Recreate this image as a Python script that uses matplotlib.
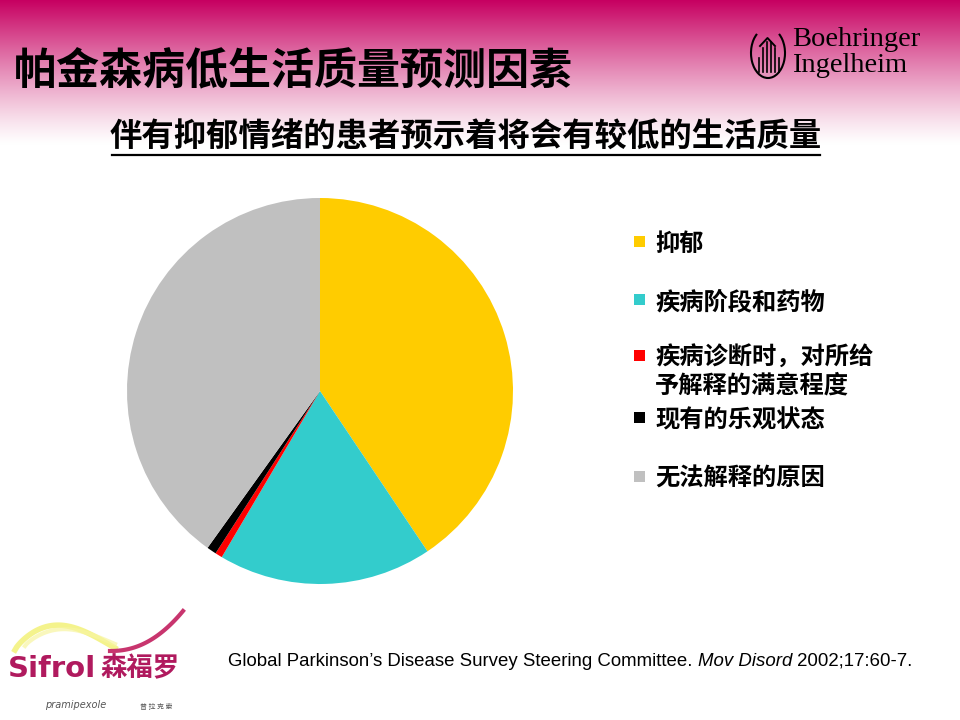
import matplotlib.pyplot as plt
import numpy as np
from matplotlib.patches import Arc, Rectangle

plt.rcParams['font.family'] = ['Noto Sans CJK SC', 'DejaVu Sans']

# ======= DATA =======
labels = ["抑郁", "疾病阶段和药物", "疾病诊断时，对所给\n予解释的满意程度", "现有的乐观状态", "无法解释的原因"]
values = [40.6, 17.9, 0.6, 0.8, 40.1]
colors = ['#FFCC00', '#33CCCC', '#FF0000', '#000000', '#C0C0C0']

title = "帕金森病低生活质量预测因素"
subtitle = "伴有抑郁情绪的患者预示着将会有较低的生活质量"
ref_start = "Global Parkinson’s Disease Survey Steering Committee. "
ref_journal = "Mov Disord"
ref_end = " 2002;17:60-7."

fig = plt.figure(figsize=(9.6, 7.2), dpi=100)

# ======= BACKGROUND / DECORATION (pixel coordinates) =======
bg = fig.add_axes([0, 0, 1, 1], zorder=0)
bg.set_xlim(0, 960)
bg.set_ylim(720, 0)
bg.axis('off')

top = np.array([0.78, 0.0, 0.38])
ys = np.linspace(0, 1, 200)
mix = np.clip(1 - ys, 0, 1) ** 1.2
grad = top[None, :] * mix[:, None] + np.ones(3)[None, :] * (1 - mix[:, None])
bg.imshow(grad[:, None, :], extent=[0, 960, 145, 0], aspect='auto', zorder=0)

bg.text(14, 71, title, fontsize=31, fontweight='bold', va='center', ha='left', color='black')
bg.text(466, 137, subtitle, fontsize=23.3, fontweight='bold', va='center', ha='center', color='black')
bg.plot([112, 820], [155, 155], color='black', lw=1.6)

# Boehringer logo
bg.add_patch(Arc((768, 53), 34, 50, theta1=-60, theta2=240, color='black', lw=1.5))
for x, h in zip([759, 763, 767, 771, 775, 779], [8, 18, 24, 24, 18, 8]):
    bg.plot([x, x], [72, 72 - h - 6], color='black', lw=1.2)
bg.plot([760, 767.5, 775], [46, 38, 46], color='black', lw=1.4)
bg.text(792, 40, "Boehringer", fontsize=20.5, family='Liberation Serif', va='center', ha='left')
bg.text(792, 66, "Ingelheim", fontsize=20.5, family='Liberation Serif', va='center', ha='left')

# legend
y_pos = [242, 300, 356, 418, 477]
for lab, c, y in zip(labels, colors, y_pos):
    bg.add_patch(Rectangle((634, y - 6), 11, 11, color=c, lw=0))
    bg.text(655, y - 10, lab, fontsize=17.5, fontweight='bold', va='top', ha='left',
            linespacing=1.2)

# reference
t1 = bg.text(228, 661, ref_start, fontsize=13.4, family='Liberation Sans', va='center', ha='left')
fig.canvas.draw()
r = fig.canvas.get_renderer()
bb = t1.get_window_extent(r)
t2 = bg.text(bb.x1, 720 - 661, ref_journal, fontsize=13.4, family='Liberation Sans', style='italic',
             va='center', ha='left', transform=None)
bb2 = t2.get_window_extent(r)
bg.text(bb2.x1, 720 - 661, ref_end, fontsize=13.4, family='Liberation Sans', va='center',
        ha='left', transform=None)

# Sifrol logo
tt = np.linspace(0, 1, 60)
bg.plot(15 + 100 * tt, 650 - 24 * np.sin(np.pi * tt ** 0.8) - 2 * tt, color='#F2F070', lw=4, alpha=0.8)
bg.plot(25 + 90 * tt, 646 - 16 * np.sin(np.pi * tt ** 0.8) - 2 * tt, color='#F7F5A0', lw=3, alpha=0.7)
bg.plot(110 + 73 * tt, 651 - 40 * tt ** 2.2, color='#C8356E', lw=3)
bg.text(8, 669, "Sifrol", fontsize=21, fontweight='bold', family='DejaVu Sans',
        color='#B01A5E', va='center', ha='left')
bg.text(100, 669, "森福罗", fontsize=19, fontweight='bold', color='#B01A5E', va='center', ha='left')
bg.text(45, 705, "pramipexole", fontsize=7, style='italic', family='DejaVu Sans', color='#555555',
        va='center', ha='left')
bg.text(140, 707, "普 拉 克 索", fontsize=5, color='#555555', va='center', ha='left')

# ======= PIE =======
ax = fig.add_axes([(320 - 193) / 960, 1 - (391 + 193) / 720, 386 / 960, 386 / 720], zorder=2)
ax.patch.set_alpha(0)
ax.pie(values, colors=colors, startangle=90, counterclock=False,
       wedgeprops=dict(linewidth=0))
ax.set_xlim(-1, 1)
ax.set_ylim(-1, 1)
ax.set_aspect('equal')
ax.axis('off')

fig.savefig("out.png", dpi=100)
